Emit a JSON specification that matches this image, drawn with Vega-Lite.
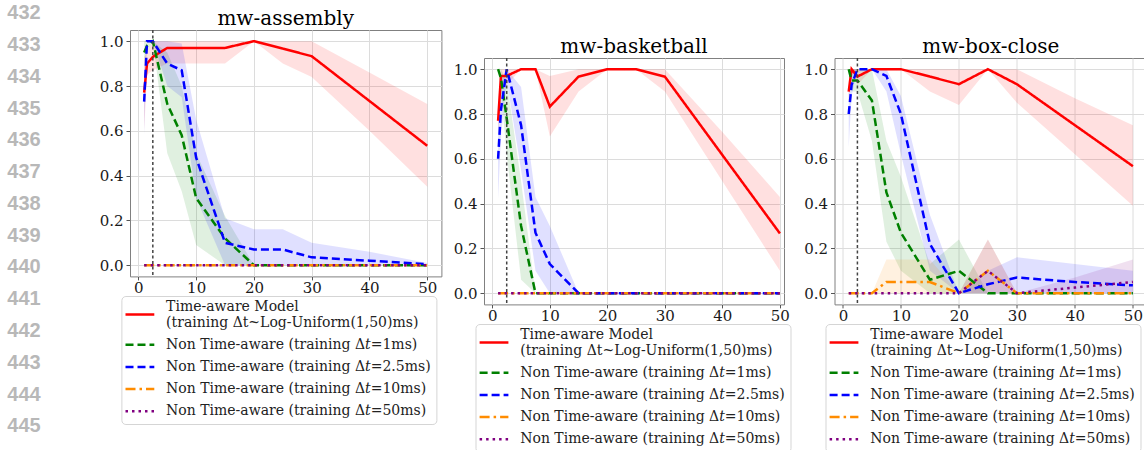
{
"$schema": "https://vega.github.io/schema/vega-lite/v6.json",
"padding": {"top": 3, "left": 0, "right": 0, "bottom": 0},
"background": "white",
"config": {
  "font": "DejaVu Serif",
  "view": {"stroke": "#808080", "strokeWidth": 1},
  "axis": {"domain": false, "grid": true, "gridColor": "#dcdcdc", "gridWidth": 1, "tickColor": "#555555", "tickSize": 4, "labelFont": "DejaVu Serif", "labelFontSize": 15, "labelColor": "#1a1a1a", "labelPadding": 3},
  "axisX": {"tickSize": 3.5, "labelPadding": 1},
  "title": {"font": "DejaVu Serif", "fontSize": 20, "fontWeight": "normal", "color": "#000000", "dy": 4},
  "legend": {"title": null, "direction": "vertical", "symbolType": "M-1.8,0H1.8", "symbolSize": 256, "symbolStrokeWidth": 2.5, "symbolOpacity": 1, "symbolOffset": 4, "labelOffset": 16.7, "labelFont": "DejaVu Serif", "labelFontSize": 14, "labelColor": "#222222", "labelLimit": 500, "padding": 5, "rowPadding": 5.2, "strokeColor": "#d5d5d5", "fillColor": "#ffffff", "cornerRadius": 4}
},
"data": {"values": [
{"p":"a","s":"ta","x":1,"y":0.77,"lo":0.6,"hi":0.93},{"p":"a","s":"ta","x":1.5,"y":0.9,"lo":0.85,"hi":0.95},{"p":"a","s":"ta","x":2.5,"y":0.93,"lo":0.87,"hi":1},{"p":"a","s":"ta","x":5,"y":0.97,"lo":0.9,"hi":1},{"p":"a","s":"ta","x":7.5,"y":0.97,"lo":0.9,"hi":1},{"p":"a","s":"ta","x":10,"y":0.97,"lo":0.9,"hi":1},{"p":"a","s":"ta","x":15,"y":0.97,"lo":0.9,"hi":1},{"p":"a","s":"ta","x":20,"y":1,"lo":1,"hi":1},{"p":"a","s":"ta","x":25,"y":0.967,"lo":0.9,"hi":1},{"p":"a","s":"ta","x":30,"y":0.933,"lo":0.84,"hi":1},{"p":"a","s":"ta","x":40,"y":0.733,"lo":0.6,"hi":0.86},{"p":"a","s":"ta","x":50,"y":0.533,"lo":0.35,"hi":0.72},
{"p":"a","s":"d1","x":1,"y":0.95,"lo":0.9,"hi":1},{"p":"a","s":"d1","x":1.5,"y":0.98,"lo":0.95,"hi":1},{"p":"a","s":"d1","x":2.5,"y":1,"lo":1,"hi":1},{"p":"a","s":"d1","x":5,"y":0.72,"lo":0.5,"hi":0.95},{"p":"a","s":"d1","x":7.5,"y":0.58,"lo":0.33,"hi":0.8},{"p":"a","s":"d1","x":10,"y":0.3,"lo":0.09,"hi":0.5},{"p":"a","s":"d1","x":15,"y":0.12,"lo":0,"hi":0.22},{"p":"a","s":"d1","x":20,"y":0,"lo":0,"hi":0},{"p":"a","s":"d1","x":25,"y":0,"lo":0,"hi":0},{"p":"a","s":"d1","x":30,"y":0,"lo":0,"hi":0},{"p":"a","s":"d1","x":40,"y":0,"lo":0,"hi":0},{"p":"a","s":"d1","x":50,"y":0,"lo":0,"hi":0},
{"p":"a","s":"d25","x":1,"y":0.73,"lo":0.58,"hi":0.88},{"p":"a","s":"d25","x":1.5,"y":1,"lo":1,"hi":1},{"p":"a","s":"d25","x":2.5,"y":1,"lo":1,"hi":1},{"p":"a","s":"d25","x":5,"y":0.9,"lo":0.8,"hi":1},{"p":"a","s":"d25","x":7.5,"y":0.87,"lo":0.75,"hi":0.99},{"p":"a","s":"d25","x":10,"y":0.48,"lo":0.3,"hi":0.65},{"p":"a","s":"d25","x":15,"y":0.1,"lo":0,"hi":0.21},{"p":"a","s":"d25","x":20,"y":0.07,"lo":0,"hi":0.16},{"p":"a","s":"d25","x":25,"y":0.07,"lo":0,"hi":0.16},{"p":"a","s":"d25","x":30,"y":0.035,"lo":0,"hi":0.1},{"p":"a","s":"d25","x":40,"y":0.02,"lo":0,"hi":0.06},{"p":"a","s":"d25","x":50,"y":0.005,"lo":0,"hi":0.01},
{"p":"a","s":"d10","x":1,"y":0,"lo":0,"hi":0},{"p":"a","s":"d10","x":1.5,"y":0,"lo":0,"hi":0},{"p":"a","s":"d10","x":2.5,"y":0,"lo":0,"hi":0},{"p":"a","s":"d10","x":5,"y":0,"lo":0,"hi":0},{"p":"a","s":"d10","x":7.5,"y":0,"lo":0,"hi":0},{"p":"a","s":"d10","x":10,"y":0,"lo":0,"hi":0},{"p":"a","s":"d10","x":15,"y":0,"lo":0,"hi":0},{"p":"a","s":"d10","x":20,"y":0,"lo":0,"hi":0},{"p":"a","s":"d10","x":25,"y":0,"lo":0,"hi":0},{"p":"a","s":"d10","x":30,"y":0,"lo":0,"hi":0},{"p":"a","s":"d10","x":40,"y":0,"lo":0,"hi":0},{"p":"a","s":"d10","x":50,"y":0,"lo":0,"hi":0},
{"p":"a","s":"d50","x":1,"y":0,"lo":0,"hi":0},{"p":"a","s":"d50","x":1.5,"y":0,"lo":0,"hi":0},{"p":"a","s":"d50","x":2.5,"y":0,"lo":0,"hi":0},{"p":"a","s":"d50","x":5,"y":0,"lo":0,"hi":0},{"p":"a","s":"d50","x":7.5,"y":0,"lo":0,"hi":0},{"p":"a","s":"d50","x":10,"y":0,"lo":0,"hi":0},{"p":"a","s":"d50","x":15,"y":0,"lo":0,"hi":0},{"p":"a","s":"d50","x":20,"y":0,"lo":0,"hi":0},{"p":"a","s":"d50","x":25,"y":0,"lo":0,"hi":0},{"p":"a","s":"d50","x":30,"y":0,"lo":0,"hi":0},{"p":"a","s":"d50","x":40,"y":0,"lo":0,"hi":0},{"p":"a","s":"d50","x":50,"y":0,"lo":0,"hi":0},
{"p":"b","s":"ta","x":1,"y":0.77,"lo":0.7,"hi":0.85},{"p":"b","s":"ta","x":1.5,"y":0.97,"lo":0.93,"hi":1},{"p":"b","s":"ta","x":2.5,"y":0.97,"lo":0.93,"hi":1},{"p":"b","s":"ta","x":5,"y":1,"lo":1,"hi":1},{"p":"b","s":"ta","x":7.5,"y":1,"lo":1,"hi":1},{"p":"b","s":"ta","x":10,"y":0.833,"lo":0.7,"hi":0.97},{"p":"b","s":"ta","x":15,"y":0.967,"lo":0.9,"hi":1},{"p":"b","s":"ta","x":20,"y":1,"lo":1,"hi":1},{"p":"b","s":"ta","x":25,"y":1,"lo":1,"hi":1},{"p":"b","s":"ta","x":30,"y":0.967,"lo":0.9,"hi":1},{"p":"b","s":"ta","x":40,"y":0.617,"lo":0.5,"hi":0.72},{"p":"b","s":"ta","x":50,"y":0.267,"lo":0.1,"hi":0.43},
{"p":"b","s":"d1","x":1,"y":1,"lo":1,"hi":1},{"p":"b","s":"d1","x":1.5,"y":0.96,"lo":0.9,"hi":1},{"p":"b","s":"d1","x":2.5,"y":0.78,"lo":0.62,"hi":0.95},{"p":"b","s":"d1","x":5,"y":0.3,"lo":0.06,"hi":0.5},{"p":"b","s":"d1","x":7.5,"y":0,"lo":0,"hi":0},{"p":"b","s":"d1","x":10,"y":0,"lo":0,"hi":0},{"p":"b","s":"d1","x":15,"y":0,"lo":0,"hi":0},{"p":"b","s":"d1","x":20,"y":0,"lo":0,"hi":0},{"p":"b","s":"d1","x":25,"y":0,"lo":0,"hi":0},{"p":"b","s":"d1","x":30,"y":0,"lo":0,"hi":0},{"p":"b","s":"d1","x":40,"y":0,"lo":0,"hi":0},{"p":"b","s":"d1","x":50,"y":0,"lo":0,"hi":0},
{"p":"b","s":"d25","x":1,"y":0.6,"lo":0.42,"hi":0.78},{"p":"b","s":"d25","x":1.5,"y":0.82,"lo":0.7,"hi":0.95},{"p":"b","s":"d25","x":2.5,"y":1,"lo":0.95,"hi":1},{"p":"b","s":"d25","x":5,"y":0.75,"lo":0.55,"hi":0.92},{"p":"b","s":"d25","x":7.5,"y":0.27,"lo":0.1,"hi":0.43},{"p":"b","s":"d25","x":10,"y":0.13,"lo":0,"hi":0.3},{"p":"b","s":"d25","x":15,"y":0,"lo":0,"hi":0},{"p":"b","s":"d25","x":20,"y":0,"lo":0,"hi":0},{"p":"b","s":"d25","x":25,"y":0,"lo":0,"hi":0},{"p":"b","s":"d25","x":30,"y":0,"lo":0,"hi":0},{"p":"b","s":"d25","x":40,"y":0,"lo":0,"hi":0},{"p":"b","s":"d25","x":50,"y":0,"lo":0,"hi":0},
{"p":"b","s":"d10","x":1,"y":0,"lo":0,"hi":0},{"p":"b","s":"d10","x":1.5,"y":0,"lo":0,"hi":0},{"p":"b","s":"d10","x":2.5,"y":0,"lo":0,"hi":0},{"p":"b","s":"d10","x":5,"y":0,"lo":0,"hi":0},{"p":"b","s":"d10","x":7.5,"y":0,"lo":0,"hi":0},{"p":"b","s":"d10","x":10,"y":0,"lo":0,"hi":0},{"p":"b","s":"d10","x":15,"y":0,"lo":0,"hi":0},{"p":"b","s":"d10","x":20,"y":0,"lo":0,"hi":0},{"p":"b","s":"d10","x":25,"y":0,"lo":0,"hi":0},{"p":"b","s":"d10","x":30,"y":0,"lo":0,"hi":0},{"p":"b","s":"d10","x":40,"y":0,"lo":0,"hi":0},{"p":"b","s":"d10","x":50,"y":0,"lo":0,"hi":0},
{"p":"b","s":"d50","x":1,"y":0,"lo":0,"hi":0},{"p":"b","s":"d50","x":1.5,"y":0,"lo":0,"hi":0},{"p":"b","s":"d50","x":2.5,"y":0,"lo":0,"hi":0},{"p":"b","s":"d50","x":5,"y":0,"lo":0,"hi":0},{"p":"b","s":"d50","x":7.5,"y":0,"lo":0,"hi":0},{"p":"b","s":"d50","x":10,"y":0,"lo":0,"hi":0},{"p":"b","s":"d50","x":15,"y":0,"lo":0,"hi":0},{"p":"b","s":"d50","x":20,"y":0,"lo":0,"hi":0},{"p":"b","s":"d50","x":25,"y":0,"lo":0,"hi":0},{"p":"b","s":"d50","x":30,"y":0,"lo":0,"hi":0},{"p":"b","s":"d50","x":40,"y":0,"lo":0,"hi":0},{"p":"b","s":"d50","x":50,"y":0,"lo":0,"hi":0},
{"p":"c","s":"ta","x":1,"y":0.9,"lo":0.85,"hi":0.95},{"p":"c","s":"ta","x":1.5,"y":1,"lo":1,"hi":1},{"p":"c","s":"ta","x":2.5,"y":0.967,"lo":0.93,"hi":1},{"p":"c","s":"ta","x":5,"y":1,"lo":1,"hi":1},{"p":"c","s":"ta","x":7.5,"y":1,"lo":1,"hi":1},{"p":"c","s":"ta","x":10,"y":1,"lo":1,"hi":1},{"p":"c","s":"ta","x":15,"y":0.967,"lo":0.9,"hi":1},{"p":"c","s":"ta","x":20,"y":0.933,"lo":0.84,"hi":1},{"p":"c","s":"ta","x":25,"y":1,"lo":1,"hi":1},{"p":"c","s":"ta","x":30,"y":0.933,"lo":0.85,"hi":1},{"p":"c","s":"ta","x":40,"y":0.75,"lo":0.62,"hi":0.87},{"p":"c","s":"ta","x":50,"y":0.567,"lo":0.39,"hi":0.75},
{"p":"c","s":"d1","x":1,"y":1,"lo":0.98,"hi":1},{"p":"c","s":"d1","x":1.5,"y":0.95,"lo":0.9,"hi":1},{"p":"c","s":"d1","x":2.5,"y":0.95,"lo":0.9,"hi":1},{"p":"c","s":"d1","x":5,"y":0.86,"lo":0.68,"hi":1},{"p":"c","s":"d1","x":7.5,"y":0.45,"lo":0.23,"hi":0.68},{"p":"c","s":"d1","x":10,"y":0.27,"lo":0.1,"hi":0.52},{"p":"c","s":"d1","x":15,"y":0.06,"lo":0,"hi":0.13},{"p":"c","s":"d1","x":20,"y":0.1,"lo":0,"hi":0.24},{"p":"c","s":"d1","x":25,"y":0,"lo":0,"hi":0},{"p":"c","s":"d1","x":30,"y":0,"lo":0,"hi":0},{"p":"c","s":"d1","x":40,"y":0,"lo":0,"hi":0},{"p":"c","s":"d1","x":50,"y":0,"lo":0,"hi":0},
{"p":"c","s":"d25","x":1,"y":0.8,"lo":0.65,"hi":0.92},{"p":"c","s":"d25","x":1.5,"y":0.93,"lo":0.88,"hi":1},{"p":"c","s":"d25","x":2.5,"y":1,"lo":1,"hi":1},{"p":"c","s":"d25","x":5,"y":1,"lo":1,"hi":1},{"p":"c","s":"d25","x":7.5,"y":0.97,"lo":0.9,"hi":1},{"p":"c","s":"d25","x":10,"y":0.8,"lo":0.62,"hi":0.88},{"p":"c","s":"d25","x":15,"y":0.22,"lo":0.1,"hi":0.35},{"p":"c","s":"d25","x":20,"y":0,"lo":0,"hi":0},{"p":"c","s":"d25","x":25,"y":0.04,"lo":0,"hi":0.1},{"p":"c","s":"d25","x":30,"y":0.07,"lo":0,"hi":0.16},{"p":"c","s":"d25","x":40,"y":0.05,"lo":0,"hi":0.13},{"p":"c","s":"d25","x":50,"y":0.035,"lo":0,"hi":0.1},
{"p":"c","s":"d10","x":1,"y":0,"lo":0,"hi":0},{"p":"c","s":"d10","x":1.5,"y":0,"lo":0,"hi":0},{"p":"c","s":"d10","x":2.5,"y":0,"lo":0,"hi":0},{"p":"c","s":"d10","x":5,"y":0,"lo":0,"hi":0},{"p":"c","s":"d10","x":7.5,"y":0.05,"lo":0,"hi":0.15},{"p":"c","s":"d10","x":10,"y":0.05,"lo":0,"hi":0.15},{"p":"c","s":"d10","x":15,"y":0.05,"lo":0,"hi":0.15},{"p":"c","s":"d10","x":20,"y":0,"lo":0,"hi":0},{"p":"c","s":"d10","x":25,"y":0.1,"lo":0,"hi":0.24},{"p":"c","s":"d10","x":30,"y":0,"lo":0,"hi":0},{"p":"c","s":"d10","x":40,"y":0,"lo":0,"hi":0},{"p":"c","s":"d10","x":50,"y":0,"lo":0,"hi":0},
{"p":"c","s":"d50","x":1,"y":0,"lo":0,"hi":0},{"p":"c","s":"d50","x":1.5,"y":0,"lo":0,"hi":0},{"p":"c","s":"d50","x":2.5,"y":0,"lo":0,"hi":0},{"p":"c","s":"d50","x":5,"y":0,"lo":0,"hi":0},{"p":"c","s":"d50","x":7.5,"y":0,"lo":0,"hi":0},{"p":"c","s":"d50","x":10,"y":0,"lo":0,"hi":0},{"p":"c","s":"d50","x":15,"y":0,"lo":0,"hi":0},{"p":"c","s":"d50","x":20,"y":0,"lo":0,"hi":0},{"p":"c","s":"d50","x":25,"y":0.1,"lo":0,"hi":0.24},{"p":"c","s":"d50","x":30,"y":0,"lo":0,"hi":0},{"p":"c","s":"d50","x":40,"y":0.025,"lo":0,"hi":0.07},{"p":"c","s":"d50","x":50,"y":0.05,"lo":0,"hi":0.15}
]},
"spacing": 10,
"resolve": {"scale": {"color": "independent", "strokeDash": "independent", "fill": "independent"}},
"hconcat": [
{
  "width": 88, "height": 400,
  "view": {"stroke": null},
  "data": {"values": [{"n":"432"},{"n":"433"},{"n":"434"},{"n":"435"},{"n":"436"},{"n":"437"},{"n":"438"},{"n":"439"},{"n":"440"},{"n":"441"},{"n":"442"},{"n":"443"},{"n":"444"},{"n":"445"}]},
  "mark": {"type": "text", "font": "Liberation Sans", "fontWeight": "bold", "fontSize": 20, "color": "#b8b8b8", "dx": -20, "baseline": "middle"},
  "encoding": {
    "y": {"field": "n", "type": "quantitative", "scale": {"domain": [432.53, 445.113], "reverse": true, "nice": false, "zero": false}, "axis": null},
    "text": {"field": "n", "type": "nominal"}
  }
},
{
  "title": {"text": "mw-assembly"},
  "width": 311.4, "height": 246.4,
  "layer": [
    {"transform": [{"filter": "datum.p == 'a'"}],
     "mark": {"type": "area", "opacity": 0.12},
     "encoding": {
       "x": {"field": "x", "type": "quantitative", "scale": {"domain": [-1.45, 52.45], "nice": false, "zero": false}, "axis": {"values": [0,10,20,30,40,50], "title": null}},
       "y": {"field": "lo", "type": "quantitative", "stack": null, "scale": {"domain": [-0.05, 1.05], "nice": false, "zero": false}, "axis": {"values": [0,0.2,0.4,0.6,0.8,1], "format": ".1f", "title": null}},
       "y2": {"field": "hi"},
       "fill": {"field": "s", "type": "nominal", "scale": {"domain": ["ta","d1","d25","d10","d50"], "range": ["#ff0000","#008000","#0000ff","#ff8c00","#800080"]},
         "legend": {"orient": "none", "legendX": -8.6, "legendY": 266, "labelExpr": "datum.value == 'ta' ? ['Time-aware Model', '(training Δt~Log-Uniform(1,50)ms)'] : datum.value == 'd1' ? 'Non Time-aware (training Δ𝑡=1ms)' : datum.value == 'd25' ? 'Non Time-aware (training Δ𝑡=2.5ms)' : datum.value == 'd10' ? 'Non Time-aware (training Δ𝑡=10ms)' : 'Non Time-aware (training Δ𝑡=50ms)'", "encode": {"symbols": {"update": {"opacity": {"value": 1}, "y": {"signal": "datum.value == 'ta' ? 13.5 : 9.5"}}}, "labels": {"update": {"lineHeight": {"value": 16.5}, "dy": {"signal": "datum.value == 'ta' ? -4 : 0"}}}}}}
     }},
    {"transform": [{"filter": "datum.p == 'a'"}],
     "mark": {"type": "line", "strokeWidth": 2.5},
     "encoding": {
       "x": {"field": "x", "type": "quantitative"},
       "y": {"field": "y", "type": "quantitative"},
       "color": {"field": "s", "type": "nominal", "scale": {"domain": ["ta","d1","d25","d10","d50"], "range": ["#ff0000","#008000","#0000ff","#ff8c00","#800080"]},
         "legend": {"orient": "none", "legendX": -8.6, "legendY": 266, "labelExpr": "datum.value == 'ta' ? ['Time-aware Model', '(training Δt~Log-Uniform(1,50)ms)'] : datum.value == 'd1' ? 'Non Time-aware (training Δ𝑡=1ms)' : datum.value == 'd25' ? 'Non Time-aware (training Δ𝑡=2.5ms)' : datum.value == 'd10' ? 'Non Time-aware (training Δ𝑡=10ms)' : 'Non Time-aware (training Δ𝑡=50ms)'", "encode": {"symbols": {"update": {"opacity": {"value": 1}, "y": {"signal": "datum.value == 'ta' ? 13.5 : 9.5"}}}, "labels": {"update": {"lineHeight": {"value": 16.5}, "dy": {"signal": "datum.value == 'ta' ? -4 : 0"}}}}}},
       "strokeDash": {"field": "s", "type": "nominal", "scale": {"domain": ["ta","d1","d25","d10","d50"], "range": [[1,0],[8,4],[8,4],[10,4,2.5,4],[2.5,4]]},
         "legend": {"orient": "none", "legendX": -8.6, "legendY": 266, "labelExpr": "datum.value == 'ta' ? ['Time-aware Model', '(training Δt~Log-Uniform(1,50)ms)'] : datum.value == 'd1' ? 'Non Time-aware (training Δ𝑡=1ms)' : datum.value == 'd25' ? 'Non Time-aware (training Δ𝑡=2.5ms)' : datum.value == 'd10' ? 'Non Time-aware (training Δ𝑡=10ms)' : 'Non Time-aware (training Δ𝑡=50ms)'", "encode": {"symbols": {"update": {"opacity": {"value": 1}, "y": {"signal": "datum.value == 'ta' ? 13.5 : 9.5"}}}, "labels": {"update": {"lineHeight": {"value": 16.5}, "dy": {"signal": "datum.value == 'ta' ? -4 : 0"}}}}}}
     }},
    {"data": {"values": [{}]},
     "mark": {"type": "rule", "color": "#444444", "strokeWidth": 1.5, "strokeDash": [3, 2.5]},
     "encoding": {"x": {"datum": 2.5}}}
  ]
},
{
  "spacing": 0,
  "resolve": {"scale": {"color": "independent", "strokeDash": "independent", "fill": "independent"}},
  "vconcat": [
  {
    "width": 10, "height": 6,
    "view": {"stroke": null},
    "data": {"values": []},
    "mark": "point"
  },
  {
  "spacing": 10.5,
  "resolve": {"scale": {"color": "independent", "strokeDash": "independent", "fill": "independent"}},
  "hconcat": [
  {
    "title": {"text": "mw-basketball"},
    "width": 300, "height": 246.4,
    "layer": [
      {"transform": [{"filter": "datum.p == 'b'"}],
       "mark": {"type": "area", "opacity": 0.12},
       "encoding": {
         "x": {"field": "x", "type": "quantitative", "scale": {"domain": [-1.45, 50.72], "nice": false, "zero": false}, "axis": {"values": [0,10,20,30,40,50], "title": null}},
         "y": {"field": "lo", "type": "quantitative", "stack": null, "scale": {"domain": [-0.05, 1.05], "nice": false, "zero": false}, "axis": {"values": [0,0.2,0.4,0.6,0.8,1], "format": ".1f", "title": null}},
         "y2": {"field": "hi"},
         "fill": {"field": "s", "type": "nominal", "scale": {"domain": ["ta","d1","d25","d10","d50"], "range": ["#ff0000","#008000","#0000ff","#ff8c00","#800080"]},
           "legend": {"orient": "none", "legendX": -8.5, "legendY": 266, "labelExpr": "datum.value == 'ta' ? ['Time-aware Model', '(training Δt~Log-Uniform(1,50)ms)'] : datum.value == 'd1' ? 'Non Time-aware (training Δ𝑡=1ms)' : datum.value == 'd25' ? 'Non Time-aware (training Δ𝑡=2.5ms)' : datum.value == 'd10' ? 'Non Time-aware (training Δ𝑡=10ms)' : 'Non Time-aware (training Δ𝑡=50ms)'", "encode": {"symbols": {"update": {"opacity": {"value": 1}, "y": {"signal": "datum.value == 'ta' ? 13.5 : 9.5"}}}, "labels": {"update": {"lineHeight": {"value": 16.5}, "dy": {"signal": "datum.value == 'ta' ? -4 : 0"}}}}}}
       }},
      {"transform": [{"filter": "datum.p == 'b'"}],
       "mark": {"type": "line", "strokeWidth": 2.5},
       "encoding": {
         "x": {"field": "x", "type": "quantitative"},
         "y": {"field": "y", "type": "quantitative"},
         "color": {"field": "s", "type": "nominal", "scale": {"domain": ["ta","d1","d25","d10","d50"], "range": ["#ff0000","#008000","#0000ff","#ff8c00","#800080"]},
           "legend": {"orient": "none", "legendX": -8.5, "legendY": 266, "labelExpr": "datum.value == 'ta' ? ['Time-aware Model', '(training Δt~Log-Uniform(1,50)ms)'] : datum.value == 'd1' ? 'Non Time-aware (training Δ𝑡=1ms)' : datum.value == 'd25' ? 'Non Time-aware (training Δ𝑡=2.5ms)' : datum.value == 'd10' ? 'Non Time-aware (training Δ𝑡=10ms)' : 'Non Time-aware (training Δ𝑡=50ms)'", "encode": {"symbols": {"update": {"opacity": {"value": 1}, "y": {"signal": "datum.value == 'ta' ? 13.5 : 9.5"}}}, "labels": {"update": {"lineHeight": {"value": 16.5}, "dy": {"signal": "datum.value == 'ta' ? -4 : 0"}}}}}},
         "strokeDash": {"field": "s", "type": "nominal", "scale": {"domain": ["ta","d1","d25","d10","d50"], "range": [[1,0],[8,4],[8,4],[10,4,2.5,4],[2.5,4]]},
           "legend": {"orient": "none", "legendX": -8.5, "legendY": 266, "labelExpr": "datum.value == 'ta' ? ['Time-aware Model', '(training Δt~Log-Uniform(1,50)ms)'] : datum.value == 'd1' ? 'Non Time-aware (training Δ𝑡=1ms)' : datum.value == 'd25' ? 'Non Time-aware (training Δ𝑡=2.5ms)' : datum.value == 'd10' ? 'Non Time-aware (training Δ𝑡=10ms)' : 'Non Time-aware (training Δ𝑡=50ms)'", "encode": {"symbols": {"update": {"opacity": {"value": 1}, "y": {"signal": "datum.value == 'ta' ? 13.5 : 9.5"}}}, "labels": {"update": {"lineHeight": {"value": 16.5}, "dy": {"signal": "datum.value == 'ta' ? -4 : 0"}}}}}}
       }},
      {"data": {"values": [{}]},
       "mark": {"type": "rule", "color": "#444444", "strokeWidth": 1.5, "strokeDash": [3, 2.5]},
       "encoding": {"x": {"datum": 2.5}}}
    ]
  },
  {
    "title": {"text": "mw-box-close"},
    "width": 312.6, "height": 246.4,
    "layer": [
      {"transform": [{"filter": "datum.p == 'c'"}],
       "mark": {"type": "area", "opacity": 0.12},
       "encoding": {
         "x": {"field": "x", "type": "quantitative", "scale": {"domain": [-1.45, 52.45], "nice": false, "zero": false}, "axis": {"values": [0,10,20,30,40,50], "title": null}},
         "y": {"field": "lo", "type": "quantitative", "stack": null, "scale": {"domain": [-0.05, 1.05], "nice": false, "zero": false}, "axis": {"values": [0,0.2,0.4,0.6,0.8,1], "format": ".1f", "title": null}},
         "y2": {"field": "hi"},
         "fill": {"field": "s", "type": "nominal", "scale": {"domain": ["ta","d1","d25","d10","d50"], "range": ["#ff0000","#008000","#0000ff","#ff8c00","#800080"]},
           "legend": {"orient": "none", "legendX": -9, "legendY": 266, "labelExpr": "datum.value == 'ta' ? ['Time-aware Model', '(training Δt~Log-Uniform(1,50)ms)'] : datum.value == 'd1' ? 'Non Time-aware (training Δ𝑡=1ms)' : datum.value == 'd25' ? 'Non Time-aware (training Δ𝑡=2.5ms)' : datum.value == 'd10' ? 'Non Time-aware (training Δ𝑡=10ms)' : 'Non Time-aware (training Δ𝑡=50ms)'", "encode": {"symbols": {"update": {"opacity": {"value": 1}, "y": {"signal": "datum.value == 'ta' ? 13.5 : 9.5"}}}, "labels": {"update": {"lineHeight": {"value": 16.5}, "dy": {"signal": "datum.value == 'ta' ? -4 : 0"}}}}}}
       }},
      {"transform": [{"filter": "datum.p == 'c'"}],
       "mark": {"type": "line", "strokeWidth": 2.5},
       "encoding": {
         "x": {"field": "x", "type": "quantitative"},
         "y": {"field": "y", "type": "quantitative"},
         "color": {"field": "s", "type": "nominal", "scale": {"domain": ["ta","d1","d25","d10","d50"], "range": ["#ff0000","#008000","#0000ff","#ff8c00","#800080"]},
           "legend": {"orient": "none", "legendX": -9, "legendY": 266, "labelExpr": "datum.value == 'ta' ? ['Time-aware Model', '(training Δt~Log-Uniform(1,50)ms)'] : datum.value == 'd1' ? 'Non Time-aware (training Δ𝑡=1ms)' : datum.value == 'd25' ? 'Non Time-aware (training Δ𝑡=2.5ms)' : datum.value == 'd10' ? 'Non Time-aware (training Δ𝑡=10ms)' : 'Non Time-aware (training Δ𝑡=50ms)'", "encode": {"symbols": {"update": {"opacity": {"value": 1}, "y": {"signal": "datum.value == 'ta' ? 13.5 : 9.5"}}}, "labels": {"update": {"lineHeight": {"value": 16.5}, "dy": {"signal": "datum.value == 'ta' ? -4 : 0"}}}}}},
         "strokeDash": {"field": "s", "type": "nominal", "scale": {"domain": ["ta","d1","d25","d10","d50"], "range": [[1,0],[8,4],[8,4],[10,4,2.5,4],[2.5,4]]},
           "legend": {"orient": "none", "legendX": -9, "legendY": 266, "labelExpr": "datum.value == 'ta' ? ['Time-aware Model', '(training Δt~Log-Uniform(1,50)ms)'] : datum.value == 'd1' ? 'Non Time-aware (training Δ𝑡=1ms)' : datum.value == 'd25' ? 'Non Time-aware (training Δ𝑡=2.5ms)' : datum.value == 'd10' ? 'Non Time-aware (training Δ𝑡=10ms)' : 'Non Time-aware (training Δ𝑡=50ms)'", "encode": {"symbols": {"update": {"opacity": {"value": 1}, "y": {"signal": "datum.value == 'ta' ? 13.5 : 9.5"}}}, "labels": {"update": {"lineHeight": {"value": 16.5}, "dy": {"signal": "datum.value == 'ta' ? -4 : 0"}}}}}}
       }},
      {"data": {"values": [{}]},
       "mark": {"type": "rule", "color": "#444444", "strokeWidth": 1.5, "strokeDash": [3, 2.5]},
       "encoding": {"x": {"datum": 2.5}}}
    ]
  }
  ]
  }
  ]
}
]
}
